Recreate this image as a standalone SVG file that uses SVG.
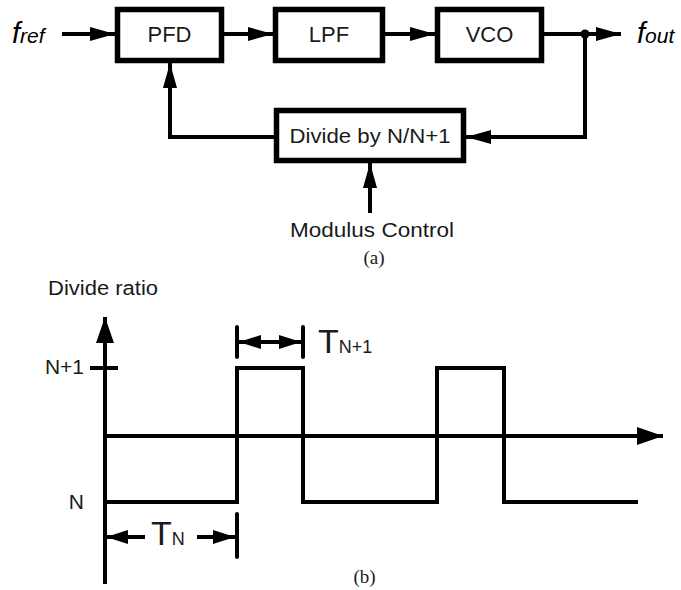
<svg xmlns="http://www.w3.org/2000/svg" width="681" height="590" viewBox="0 0 681 590">
<style>
  .box { fill: #fff; stroke: #000; stroke-width: 5.5; }
  .ln { fill: none; stroke: #000; stroke-width: 4; }
  .ax { fill: none; stroke: #000; stroke-width: 4; }
  .t { font-family: "Liberation Sans", Arial, sans-serif; fill: #1a1a1a; }
  .it { font-family: "Liberation Sans", Arial, sans-serif; font-style: italic; fill: #000; }
  .cap { font-family: "Liberation Serif", "Times New Roman", serif; fill: #1a1a1a; font-size: 19px; }
</style>
<defs>
  <marker id="arr" markerUnits="userSpaceOnUse" viewBox="0 0 25 14" refX="25" refY="7" markerWidth="25" markerHeight="14" orient="auto">
    <path d="M0,0 L25,7 L0,14 z" fill="#000"/>
  </marker>
  <marker id="arrBig" markerUnits="userSpaceOnUse" viewBox="0 0 26 18" refX="26" refY="9" markerWidth="26" markerHeight="18" orient="auto">
    <path d="M0,0 L26,9 L0,18 z" fill="#000"/>
  </marker>
  <marker id="arrS" markerUnits="userSpaceOnUse" viewBox="0 0 22 14" refX="22" refY="7" markerWidth="22" markerHeight="14" orient="auto-start-reverse">
    <path d="M0,0 L22,7 L0,14 z" fill="#000"/>
  </marker>
</defs>

<g id="connectors">
  <line class="ln" x1="62" y1="34" x2="115" y2="34" marker-end="url(#arr)"/>
  <line class="ln" x1="224" y1="34" x2="273" y2="34" marker-end="url(#arr)"/>
  <line class="ln" x1="385" y1="34" x2="435" y2="34" marker-end="url(#arr)"/>
  <line class="ln" x1="544" y1="34" x2="621" y2="34" marker-end="url(#arr)"/>
  <circle cx="585" cy="34" r="4.5" fill="#000"/>
  <polyline class="ln" points="585,34 585,137 466,137" marker-end="url(#arr)"/>
  <polyline class="ln" points="274,137 170,137 170,63" marker-end="url(#arr)"/>
  <line class="ln" x1="370" y1="213" x2="370" y2="163" marker-end="url(#arr)"/>
</g>

<g id="fref"><text class="it" x="12" y="43"><tspan font-size="29">f</tspan><tspan font-size="21">ref</tspan></text></g>
<g id="fout"><text class="it" x="637" y="43"><tspan font-size="29">f</tspan><tspan font-size="21">out</tspan></text></g>

<g id="pfd">
  <rect class="box" x="117.5" y="9.5" width="104" height="51"/>
  <text class="t" x="169.5" y="42" font-size="22" text-anchor="middle">PFD</text>
</g>
<g id="lpf">
  <rect class="box" x="275.5" y="9.5" width="107" height="51"/>
  <text class="t" x="329" y="42" font-size="22" text-anchor="middle">LPF</text>
</g>
<g id="vco">
  <rect class="box" x="437.5" y="9.5" width="104" height="51"/>
  <text class="t" x="489.5" y="42" font-size="22" text-anchor="middle">VCO</text>
</g>
<g id="divider">
  <rect class="box" x="276.5" y="110.5" width="187" height="50"/>
  <text class="t" x="370" y="143" font-size="21" text-anchor="middle" textLength="161" lengthAdjust="spacingAndGlyphs">Divide by N/N+1</text>
</g>
<g id="modulus">
  <text class="t" x="372" y="237" font-size="21" text-anchor="middle" textLength="164" lengthAdjust="spacingAndGlyphs">Modulus Control</text>
</g>
<text class="cap" x="374" y="264" text-anchor="middle">(a)</text>

<g id="chart">
  <line class="ax" x1="105" y1="584" x2="105" y2="317" marker-end="url(#arrBig)"/>
  <line class="ax" x1="90" y1="368" x2="118" y2="368"/>
  <line class="ax" x1="105" y1="436" x2="663" y2="436" marker-end="url(#arrBig)"/>
  <path class="ax" d="M105,502 H237 V368 H303 V502 H437 V368 H504 V502 H638"/>
  <line class="ax" x1="237" y1="327" x2="237" y2="357" stroke-linecap="round"/>
  <line class="ax" x1="303" y1="327" x2="303" y2="357" stroke-linecap="round"/>
  <line class="ln" x1="239" y1="342" x2="301" y2="342" marker-start="url(#arrS)" marker-end="url(#arrS)"/>
  <line class="ax" x1="237" y1="514" x2="237" y2="557" stroke-linecap="round"/>
  <line class="ln" x1="145" y1="537" x2="106" y2="537" marker-end="url(#arrS)"/>
  <line class="ln" x1="197" y1="537" x2="235" y2="537" marker-end="url(#arrS)"/>
  <text class="t" x="48" y="295" font-size="20" textLength="110" lengthAdjust="spacingAndGlyphs">Divide ratio</text>
  <text class="t" x="84" y="374" font-size="21" text-anchor="end">N+1</text>
  <text class="t" x="84" y="509" font-size="21" text-anchor="end">N</text>
  <text class="t" x="318" y="353"><tspan font-size="34">T</tspan><tspan font-size="18">N+1</tspan></text>
  <text class="t" x="151" y="545"><tspan font-size="34">T</tspan><tspan font-size="18">N</tspan></text>
</g>
<text class="cap" x="364.5" y="583" text-anchor="middle">(b)</text>
</svg>
